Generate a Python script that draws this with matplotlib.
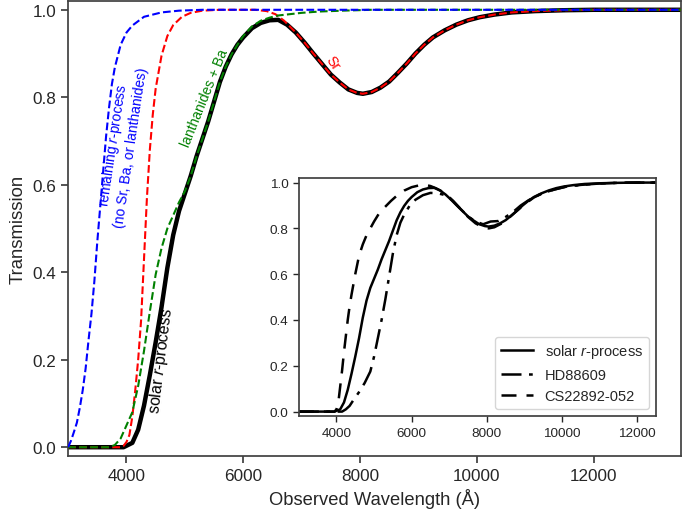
import matplotlib
matplotlib.use("Agg")
import matplotlib.pyplot as plt

plt.rcParams["font.family"] = ["Liberation Sans", "DejaVu Sans"]
plt.rcParams["mathtext.fontset"] = "custom"
plt.rcParams["mathtext.it"] = "Liberation Sans:italic"
plt.rcParams["mathtext.rm"] = "Liberation Sans"
plt.rcParams["text.color"] = ".15"
plt.rcParams["axes.labelcolor"] = ".15"
plt.rcParams["xtick.color"] = ".15"
plt.rcParams["ytick.color"] = ".15"
plt.rcParams["axes.edgecolor"] = ".25"
plt.rcParams["axes.linewidth"] = 1.25

# ---- main panel: transmission curves (wavelength in Angstrom) ----
solar_wl = [3000, 3800, 3950, 4100, 4200, 4300, 4400, 4500, 4600, 4700, 4800,
            4900, 5000, 5100, 5200, 5300, 5400, 5500, 5600, 5700, 5800, 5900,
            6000, 6150, 6300, 6450, 6600, 6750, 6900, 7050, 7200, 7350, 7500,
            7650, 7800, 7950, 8050, 8200, 8350, 8500, 8650, 8800, 8950, 9100,
            9250, 9450, 9650, 9850, 10050, 10300, 10600, 11000, 11500, 12000,
            13500]
solar_tr = [0.0, 0.0, 0.0, 0.01, 0.04, 0.095, 0.165, 0.24, 0.32, 0.41, 0.485,
            0.54, 0.58, 0.62, 0.665, 0.705, 0.745, 0.79, 0.835, 0.87, 0.898,
            0.92, 0.937, 0.958, 0.97, 0.976, 0.977, 0.966, 0.948, 0.925, 0.9,
            0.876, 0.852, 0.834, 0.818, 0.81, 0.808, 0.812, 0.822, 0.836,
            0.856, 0.877, 0.9, 0.92, 0.937, 0.953, 0.966, 0.976, 0.983, 0.989,
            0.994, 0.997, 0.999, 1.0, 1.0]

sr_wl = [3000, 3900, 3950, 4000, 4050, 4100, 4150, 4200, 4250, 4300, 4350,
         4400, 4450, 4500, 4600, 4700, 4800, 4950, 5100, 5300, 5600, 6200,
         6400, 6550, 6700, 6900, 7050, 7200, 7350, 7500, 7650, 7800, 7950,
         8050, 8200, 8350, 8500, 8650, 8800, 8950, 9100, 9250, 9450, 9650,
         9850, 10050, 10300, 10600, 11000, 11500, 12000, 13500]
sr_tr = [0.0, 0.0, 0.003, 0.012, 0.028, 0.07, 0.13, 0.2, 0.29, 0.43, 0.57,
         0.68, 0.76, 0.82, 0.895, 0.94, 0.965, 0.984, 0.993, 0.998, 1.0, 1.0,
         0.997, 0.99, 0.975, 0.948, 0.925, 0.9, 0.876, 0.852, 0.834, 0.818,
         0.81, 0.808, 0.812, 0.822, 0.836, 0.856, 0.877, 0.9, 0.92, 0.937,
         0.953, 0.966, 0.976, 0.983, 0.989, 0.994, 0.997, 0.999, 1.0, 1.0]

lan_wl = [3000, 3700, 3800, 3900, 4000, 4100, 4200, 4300, 4400, 4500, 4600,
          4700, 4800, 4900, 5000, 5100, 5200, 5300, 5400, 5500, 5600, 5700,
          5800, 5900, 6000, 6150, 6300, 6450, 6600, 6800, 7000, 7300, 7700,
          8200, 13500]
lan_tr = [0.0, 0.0, 0.005, 0.02, 0.05, 0.08, 0.14, 0.22, 0.31, 0.395, 0.455,
          0.5, 0.53, 0.56, 0.585, 0.62, 0.665, 0.705, 0.745, 0.79, 0.835,
          0.87, 0.898, 0.92, 0.94, 0.962, 0.975, 0.982, 0.987, 0.99, 0.993,
          0.996, 0.998, 1.0, 1.0]

rem_wl = [3000, 3050, 3100, 3150, 3200, 3250, 3300, 3350, 3400, 3450, 3500,
          3550, 3600, 3650, 3700, 3750, 3800, 3900, 4000, 4100, 4300, 4600,
          4900, 5300, 13500]
rem_tr = [0.0, 0.015, 0.035, 0.056, 0.09, 0.13, 0.18, 0.245, 0.305, 0.38,
          0.47, 0.55, 0.63, 0.71, 0.775, 0.83, 0.868, 0.92, 0.948, 0.964,
          0.984, 0.994, 0.998, 1.0, 1.0]

# ---- inset: star comparison ----
hd_wl = [3000, 4150, 4250, 4350, 4450, 4600, 4750, 4900, 5000, 5100, 5200,
         5300, 5400, 5500, 5600, 5700, 5800, 5950, 6100, 6300, 6500, 6700,
         6900, 7100, 7300, 7500, 7700, 7900, 8100, 8300, 8500, 8700, 8900,
         9100, 9300, 9500, 9800, 10100, 10500, 11000, 11500, 12000, 13500]
hd_tr = [0.0, 0.0, 0.01, 0.025, 0.05, 0.085, 0.125, 0.175, 0.24, 0.32, 0.4,
         0.49, 0.59, 0.69, 0.77, 0.825, 0.86, 0.9, 0.925, 0.945, 0.955,
         0.953, 0.945, 0.92, 0.885, 0.852, 0.83, 0.818, 0.83, 0.832, 0.85,
         0.872, 0.9, 0.922, 0.94, 0.955, 0.97, 0.982, 0.99, 0.996, 0.999,
         1.0, 1.0]

cs_wl = [3000, 3950, 4000, 4050, 4100, 4150, 4200, 4250, 4300, 4350, 4400,
         4450, 4500, 4600, 4700, 4800, 4900, 5000, 5150, 5300, 5450, 5600,
         5800, 6000, 6200, 6350, 6500, 6650, 6800, 6950, 7100, 7300, 7500,
         7700, 7900, 8050, 8200, 8400, 8600, 8800, 9000, 9250, 9500, 9800,
         10100, 10500, 11000, 11500, 12000, 13500]
cs_tr = [0.0, 0.0, 0.01, 0.04, 0.11, 0.18, 0.26, 0.33, 0.4, 0.46, 0.51,
         0.555, 0.6, 0.68, 0.73, 0.77, 0.8, 0.83, 0.87, 0.895, 0.92, 0.942,
         0.965, 0.98, 0.988, 0.99, 0.985, 0.975, 0.962, 0.945, 0.92, 0.885,
         0.85, 0.822, 0.804, 0.8, 0.805, 0.822, 0.848, 0.877, 0.905, 0.935,
         0.955, 0.97, 0.982, 0.99, 0.996, 0.999, 1.0, 1.0]

xticks = [4000, 6000, 8000, 10000, 12000]
yticks = [0.0, 0.2, 0.4, 0.6, 0.8, 1.0]

fig = plt.figure(figsize=(6.95, 5.1), dpi=100)
ax = fig.add_axes([0.098, 0.104, 0.882, 0.892])

ax.plot(solar_wl, solar_tr, color="black", lw=3.2, zorder=2)
ax.plot(sr_wl, sr_tr, color="red", ls="--", lw=1.5, zorder=3)
ax.plot(lan_wl, lan_tr, color="green", ls="--", lw=1.5, zorder=4)
ax.plot(rem_wl, rem_tr, color="blue", ls="--", lw=1.5, zorder=5)

ax.text(3915, 0.69, "remaining $r$-process\n(no Sr, Ba, or lanthanides)",
        color="blue", fontsize=10, rotation=81.5, ha="center", va="center",
        multialignment="center", rotation_mode="anchor")
ax.text(5343, 0.80, "lanthanides + Ba", color="green", fontsize=10,
        rotation=68, ha="center", va="center", rotation_mode="anchor")
ax.text(4595, 0.20, "solar $r$-process", color="black", fontsize=11.5,
        rotation=83, ha="center", va="center", rotation_mode="anchor")
ax.text(7536, 0.88, "Sr", color="red", fontsize=10, rotation=-55,
        ha="center", va="center", rotation_mode="anchor")

ax.set_xlim(3000, 13500)
ax.set_ylim(-0.02, 1.02)
ax.set_xticks(xticks)
ax.set_yticks(yticks)
ax.tick_params(labelsize=12.3, length=5, width=1.1, direction="out")
ax.set_xlabel("Observed Wavelength (Å)", fontsize=13.2)
ax.set_ylabel("Transmission", fontsize=13.3)

ins = fig.add_axes([0.430, 0.182, 0.514, 0.467])
ins.plot(solar_wl, solar_tr, color="black", lw=1.8, ls="-", label="solar $r$-process")
ins.plot(hd_wl, hd_tr, color="black", lw=1.8, ls=(0, (8, 3, 1.5, 3)), label="HD88609")
ins.plot(cs_wl, cs_tr, color="black", lw=1.8, ls=(0, (6, 4)), label="CS22892-052")
ins.set_xlim(3000, 12500)
ins.set_ylim(-0.02, 1.02)
ins.set_xticks(xticks)
ins.set_yticks(yticks)
ins.tick_params(labelsize=9.7, length=4, width=1.0, direction="out")
ins.legend(loc="lower right", fontsize=10.5, frameon=True, handlelength=2.2)

fig.savefig("out.png", dpi=100)
